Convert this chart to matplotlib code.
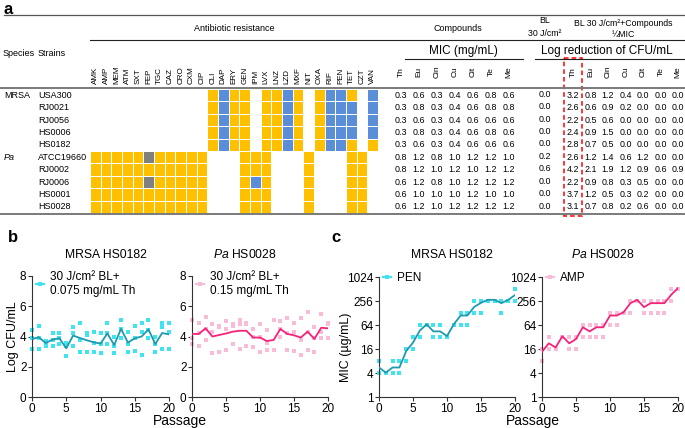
import matplotlib
matplotlib.use("Agg")
import matplotlib.pyplot as plt
from matplotlib.colors import ListedColormap
from matplotlib.lines import Line2D
from matplotlib.patches import Rectangle
import numpy as np

plt.rcParams['font.family'] = ['Liberation Sans', 'DejaVu Sans']
plt.rcParams['mathtext.fontset'] = 'custom'
plt.rcParams['mathtext.rm'] = 'Liberation Sans'
plt.rcParams['mathtext.it'] = 'Liberation Sans:italic'

# ---------------- data: panel a ----------------
antibiotics = ["AMK", "AMP", "MEM", "ATM", "SXT", "FEP", "TGC", "CAZ", "CRO", "CXM", "CIP",
               "CLI", "DAP", "ERY", "GEN", "IPM", "LVX", "LNZ", "LZD", "MXF", "NIT", "OXA",
               "RIF", "PEN", "TET", "CZT", "VAN"]
species = ["MRSA", "", "", "", "", "Pa", "", "", "", ""]
strains = ["USA300", "RJ0021", "RJ0056", "HS0006", "HS0182",
           "ATCC19660", "RJ0002", "RJ0006", "HS0001", "HS0028"]
# 0 = none, 1 = yellow, 2 = blue, 3 = gray
resistance = [
    [0,0,0,0,0,0,0,0,0,0,0, 1,2,1,1,0,1,1,2,1,0,1,2,2,1,0,2],
    [0,0,0,0,0,0,0,0,0,0,0, 1,2,1,1,0,1,1,2,1,0,1,2,2,2,0,2],
    [0,0,0,0,0,0,0,0,0,0,0, 1,2,1,1,0,1,1,2,1,0,1,2,2,2,0,2],
    [0,0,0,0,0,0,0,0,0,0,0, 1,2,1,1,0,1,1,2,1,0,1,2,2,2,0,2],
    [0,0,0,0,0,0,0,0,0,0,0, 1,2,1,1,0,1,1,2,1,0,1,2,2,1,0,1],
    [1,1,1,1,1,3,1,1,1,1,1, 0,0,0,1,1,1,0,0,0,1,0,0,0,1,1,0],
    [1,1,1,1,1,1,1,1,1,1,1, 0,0,0,1,1,1,0,0,0,1,0,0,0,1,1,0],
    [1,1,1,1,1,3,1,1,1,1,1, 0,0,0,1,2,1,0,0,0,1,0,0,0,1,1,0],
    [1,1,1,1,1,1,1,1,1,1,1, 0,0,0,1,1,1,0,0,0,1,0,0,0,1,1,0],
    [1,1,1,1,1,1,1,1,1,1,1, 0,0,0,1,1,1,0,0,0,1,0,0,0,1,1,0],
]
compounds = ["Th", "Eu", "Cin", "Cu", "Cit", "Te", "Me"]
mic_values = [
    [0.3, 0.6, 0.3, 0.4, 0.6, 0.8, 0.6],
    [0.3, 0.8, 0.3, 0.4, 0.6, 0.8, 0.8],
    [0.3, 0.6, 0.3, 0.4, 0.6, 0.6, 0.6],
    [0.3, 0.8, 0.3, 0.4, 0.6, 0.8, 0.6],
    [0.3, 0.6, 0.3, 0.4, 0.6, 0.6, 0.6],
    [0.8, 1.2, 0.8, 1.0, 1.2, 1.2, 1.0],
    [0.8, 1.2, 1.0, 1.2, 1.0, 1.2, 1.2],
    [0.6, 1.2, 0.8, 1.0, 1.2, 1.2, 1.2],
    [0.6, 1.0, 1.0, 1.0, 1.2, 1.0, 1.0],
    [0.6, 1.2, 1.0, 1.2, 1.2, 1.2, 1.2],
]
bl_only = [0.0, 0.0, 0.0, 0.0, 0.0, 0.2, 0.6, 0.0, 0.0, 0.0]
log_reduction = [
    [3.2, 0.8, 1.2, 0.4, 0.0, 0.0, 0.0],
    [2.6, 0.6, 0.9, 0.2, 0.0, 0.0, 0.0],
    [2.2, 0.5, 0.6, 0.0, 0.0, 0.0, 0.0],
    [2.4, 0.9, 1.5, 0.0, 0.0, 0.0, 0.0],
    [2.8, 0.7, 0.5, 0.0, 0.0, 0.0, 0.0],
    [2.6, 1.2, 1.4, 0.6, 1.2, 0.0, 0.0],
    [4.2, 2.1, 1.9, 1.2, 0.9, 0.6, 0.9],
    [2.2, 0.9, 0.8, 0.3, 0.5, 0.0, 0.0],
    [3.7, 1.2, 0.5, 0.3, 0.2, 0.0, 0.0],
    [3.1, 0.7, 0.8, 0.2, 0.6, 0.0, 0.0],
]

# ---------------- data: panel b ----------------
passage = list(range(21))
mrsa_cfu_mean = [3.84, 3.95, 3.57, 3.8, 3.88, 3.22, 4.06, 3.9, 3.75, 3.62, 3.53,
                 4.2, 3.44, 4.5, 3.6, 3.88, 4.0, 4.47, 3.5, 4.23, 4.14]
mrsa_cfu_rep1 = [4.4, 4.7, 3.7, 4.2, 4.2, 3.6, 4.6, 4.9, 4.1, 4.3, 4.2,
                 4.9, 4.0, 5.1, 4.3, 4.7, 4.9, 5.1, 4.0, 4.9, 4.9]
mrsa_cfu_rep2 = [3.9, 3.9, 3.6, 3.8, 3.9, 3.4, 4.2, 3.8, 4.2, 3.6, 3.5,
                 4.2, 3.4, 4.5, 3.5, 3.9, 4.3, 4.4, 3.5, 4.6, 4.3]
mrsa_cfu_rep3 = [3.2, 3.2, 3.4, 3.4, 3.5, 2.7, 3.4, 3.0, 2.95, 2.95, 2.9,
                 3.5, 2.9, 3.9, 3.0, 3.05, 2.75, 3.9, 3.0, 3.2, 3.2]
pa_cfu_mean = [4.17, 4.17, 4.54, 4.0, 4.1, 4.2, 4.32, 4.38, 4.38, 3.93, 3.93,
               3.7, 3.77, 4.5, 4.17, 4.08, 3.93, 4.32, 3.84, 4.58, 4.54]
pa_cfu_rep1 = [5.1, 4.9, 5.3, 4.8, 4.6, 5.0, 4.8, 5.1, 4.9, 4.5, 4.8,
               4.4, 5.1, 5.0, 5.2, 4.9, 5.2, 5.6, 4.6, 5.5, 4.8]
pa_cfu_rep2 = [3.9, 4.2, 4.5, 4.3, 4.7, 4.5, 4.7, 4.8, 4.8, 4.0, 4.0,
               3.6, 3.1, 4.5, 4.2, 4.3, 3.8, 4.3, 3.9, 4.3, 4.9]
pa_cfu_rep3 = [3.5, 3.4, 3.8, 2.9, 3.0, 3.1, 3.5, 3.2, 3.4, 3.3, 3.0,
               3.1, 3.1, 4.0, 3.1, 3.05, 2.8, 3.1, 3.0, 3.9, 3.9]

# ---------------- data: panel c ----------------
pen_mic_mean = [5.5, 4.1, 5.5, 5.5, 14.2, 23.1, 46.2, 66.7, 44.3, 44.3, 33.8,
                66.7, 110.7, 110.7, 182, 231, 274, 274, 226, 274, 360]
pen_mic_rep1 = [8, 4, 8, 8, 16, 32, 64, 64, 64, 64, 32, 64, 128, 128, 256, 256, 256, 256, 256, 256, 512]
pen_mic_rep2 = [4, 4, 4, 4, 16, 16, 32, 64, 32, 32, 32, 64, 128, 128, 128, 256, 256, 256, 256, 256, 256]
pen_mic_rep3 = [4, 4, 4, 4, 8, 16, 32, 64, 32, 32, 32, 64, 64, 64, 128, 128, 256, 256, 128, 256, 256]
amp_mic_mean = [13.6, 22.2, 17.5, 33.4, 22.2, 28.4, 56.1, 44.3, 56.1, 56.1, 110.7,
                110.7, 134, 226, 274, 180, 226, 226, 226, 367, 541]
amp_mic_rep1 = [16, 32, 16, 32, 32, 32, 64, 64, 64, 64, 128, 128, 128, 256, 256, 256, 256, 256, 256, 512, 512]
amp_mic_rep2 = [16, 16, 16, 32, 16, 32, 64, 32, 64, 64, 128, 128, 128, 256, 256, 128, 256, 256, 256, 256, 512]
amp_mic_rep3 = [8, 16, 16, 32, 16, 16, 32, 32, 32, 32, 64, 64, 128, 128, 256, 128, 128, 128, 128, 256, 512]

# ---------------- styling ----------------
W, H = 685, 428
YELLOW = "#FFC000"
BLUE = "#5A8ED8"
GRAY = "#808080"
TEAL = "#1E9AAE"
CYAN = "#40E4F0"
PINK = "#F5227A"
LPINK = "#F9BCD8"
LINEGRAY = "#7a7a7a"

fig = plt.figure(figsize=(W / 100, H / 100), dpi=100)
ax0 = fig.add_axes([0, 0, 1, 1])
ax0.set_xlim(0, W)
ax0.set_ylim(H, 0)
ax0.axis("off")


def add_ax(l, t, r, b):
    return fig.add_axes([l / W, 1 - b / H, (r - l) / W, (b - t) / H])


# ---------------- panel a ----------------
ax0.text(4, 9, "a", fontsize=12, fontweight="bold", va="center", ha="left")
ax0.plot([4, W], [15, 15], color="#555555", lw=0.9)
ax0.text(234, 28, "Antibiotic resistance", fontsize=6.5, ha="center", va="center")
ax0.text(458, 28, "Compounds", fontsize=6.5, ha="center", va="center")
ax0.plot([90, W], [40, 40], color="#222222", lw=0.8)
ax0.text(545, 20, "BL", fontsize=6.3, ha="center", va="center")
ax0.text(545, 33, "30 J/cm²", fontsize=6.3, ha="center", va="center")
ax0.text(623, 23, "BL 30 J/cm²+Compounds", fontsize=6.3, ha="center", va="center")
ax0.text(623, 34, "½MIC", fontsize=6.3, ha="center", va="center")
ax0.text(463, 51, "MIC (mg/mL)", fontsize=8.5, ha="center", va="center")
ax0.text(607, 51, "Log reduction of CFU/mL", fontsize=8.5, ha="center", va="center")
ax0.plot([405, 523], [59, 59], color="#222222", lw=0.8)
ax0.plot([535, W], [59, 59], color="#222222", lw=0.8)
ax0.text(3, 53, "Species", fontsize=6.5, ha="left", va="center")
ax0.text(38, 53, "Strains", fontsize=6.5, ha="left", va="center")

# heatmap
hm_l, hm_r, hm_t, hm_b = 90, 378, 89, 213
axh = add_ax(hm_l, hm_t, hm_r, hm_b)
cmap = ListedColormap(["white", YELLOW, BLUE, GRAY])
res = np.array(resistance)
axh.pcolormesh(np.arange(len(antibiotics) + 1), np.arange(len(strains) + 1), res,
               cmap=cmap, vmin=-0.5, vmax=3.5, edgecolors="white", linewidth=0.6)
axh.set_xlim(0, len(antibiotics))
axh.set_ylim(len(strains), 0)
axh.axis("off")

col_w = (hm_r - hm_l) / len(antibiotics)
for j, name in enumerate(antibiotics):
    ax0.text(hm_l + (j + 0.5) * col_w, 84, name, fontsize=5.8, rotation=90,
             ha="center", va="bottom")

row_h = (hm_b - hm_t) / len(strains)
row_y = [hm_t + (i + 0.5) * row_h for i in range(len(strains))]
for i, (sp, st) in enumerate(zip(species, strains)):
    if sp:
        ax0.text(4, row_y[i], sp, fontsize=6.5, ha="left", va="center",
                 style="italic" if sp == "Pa" else "normal")
    ax0.text(38, row_y[i], st, fontsize=6.5, ha="left", va="center")

mic_x = [401, 419, 437, 455, 473, 491, 509]
log_x = [573, 591, 608, 626, 643, 661, 678]
bl_x = 545
for j, c in enumerate(compounds):
    ax0.text(mic_x[j], 72, c, fontsize=6, rotation=90, ha="center", va="center")
    ax0.text(log_x[j], 72, c, fontsize=6, rotation=90, ha="center", va="center")
for i in range(len(strains)):
    for j in range(len(compounds)):
        ax0.text(mic_x[j], row_y[i], f"{mic_values[i][j]:.1f}", fontsize=6.4,
                 ha="center", va="center")
        ax0.text(log_x[j], row_y[i], f"{log_reduction[i][j]:.1f}", fontsize=6.4,
                 ha="center", va="center")
    ax0.text(bl_x, row_y[i] - 0.8, f"{bl_only[i]:.1f}", fontsize=6.4, ha="center", va="center")

ax0.plot([0, W], [88, 88], color=LINEGRAY, lw=1.4)
ax0.plot([0, W], [214, 214], color=LINEGRAY, lw=1.4)
ax0.add_patch(Rectangle((564, 58), 18, 158, fill=False, edgecolor="red",
                        lw=1.1, linestyle=(0, (3, 2))))

# ---------------- panels b and c ----------------
def style_axis(ax):
    for s in ("top", "right"):
        ax.spines[s].set_visible(False)
    for s in ("left", "bottom"):
        ax.spines[s].set_color("#333333")
        ax.spines[s].set_linewidth(0.8)
    ax.tick_params(direction="out", length=3, width=0.8, labelsize=8.5, pad=1.0,
                   color="#333333")
    ax.set_xlim(0, 20)
    ax.set_xticks([0, 5, 10, 15, 20])


ax0.text(8, 237, "b", fontsize=12, fontweight="bold", va="center", ha="left")
ax0.text(331, 237, "c", fontsize=12, fontweight="bold", va="center", ha="left")

b_specs = [
    (32, 169, mrsa_cfu_mean, [mrsa_cfu_rep1, mrsa_cfu_rep2, mrsa_cfu_rep3], TEAL, CYAN,
     "30 J/cm² BL+\n0.075 mg/mL Th"),
    (192, 328, pa_cfu_mean, [pa_cfu_rep1, pa_cfu_rep2, pa_cfu_rep3], PINK, LPINK,
     "30 J/cm² BL+\n0.15 mg/mL Th"),
]
for l, r, mean, reps, lc, dc, lab in b_specs:
    ax = add_ax(l, 276, r, 397)
    style_axis(ax)
    for rep in reps:
        ax.plot(passage, rep, linestyle="none", marker="s", ms=2.4, color=dc,
                markeredgewidth=0, clip_on=False, zorder=2)
    ax.plot(passage, mean, color=lc, lw=1.3, zorder=3)
    ax.set_ylim(0, 8)
    ax.set_yticks([0, 2, 4, 6, 8])
    h = Line2D([0], [0], color=dc, lw=1.6, marker="s", ms=2.2, markeredgewidth=0)
    ax.legend([h], [lab], loc="upper left", bbox_to_anchor=(0.0, 1.07), frameon=False,
              handlelength=0.7, handletextpad=0.5, fontsize=8.5, borderaxespad=0.2,
              borderpad=0.1, labelspacing=0.1)

c_specs = [
    (379, 515, pen_mic_mean, [pen_mic_rep1, pen_mic_rep2, pen_mic_rep3], TEAL, CYAN, "PEN"),
    (542, 678, amp_mic_mean, [amp_mic_rep1, amp_mic_rep2, amp_mic_rep3], PINK, LPINK, "AMP"),
]
for l, r, mean, reps, lc, dc, lab in c_specs:
    ax = add_ax(l, 277, r, 397)
    style_axis(ax)
    ax.set_yscale("log", base=2)
    for rep in reps:
        ax.plot(passage, rep, linestyle="none", marker="s", ms=2.4, color=dc,
                markeredgewidth=0, clip_on=False, zorder=2)
    ax.plot(passage, mean, color=lc, lw=1.3, zorder=3)
    ax.set_ylim(1, 1024)
    ax.set_yticks([1, 4, 16, 64, 256, 1024])
    ax.set_yticklabels(["1", "4", "16", "64", "256", "1024"])
    ax.yaxis.set_minor_locator(matplotlib.ticker.NullLocator())
    h = Line2D([0], [0], color=dc, lw=1.6, marker="s", ms=2.2, markeredgewidth=0)
    ax.legend([h], [lab], loc="upper left", bbox_to_anchor=(0.0, 1.07), frameon=False,
              handlelength=0.7, handletextpad=0.5, fontsize=8.5, borderaxespad=0.2,
              borderpad=0.1)

ax0.text(106, 255, "MRSA HS0182", fontsize=8.7, ha="center", va="center")
ax0.text(245, 255, "$\\mathit{Pa}$ HS0028", fontsize=8.7, ha="center", va="center")
ax0.text(452, 255, "MRSA HS0182", fontsize=8.7, ha="center", va="center")
ax0.text(603, 255, "$\\mathit{Pa}$ HS0028", fontsize=8.7, ha="center", va="center")
ax0.text(13, 337, "Log CFU/mL", fontsize=9, rotation=90, ha="center", va="center")
ax0.text(346, 347, "MIC (µg/mL)", fontsize=9, rotation=90, ha="center", va="center")
ax0.text(180, 420.5, "Passage", fontsize=10, ha="center", va="center")
ax0.text(533, 420.5, "Passage", fontsize=10, ha="center", va="center")

fig.savefig("out.png", dpi=100)
